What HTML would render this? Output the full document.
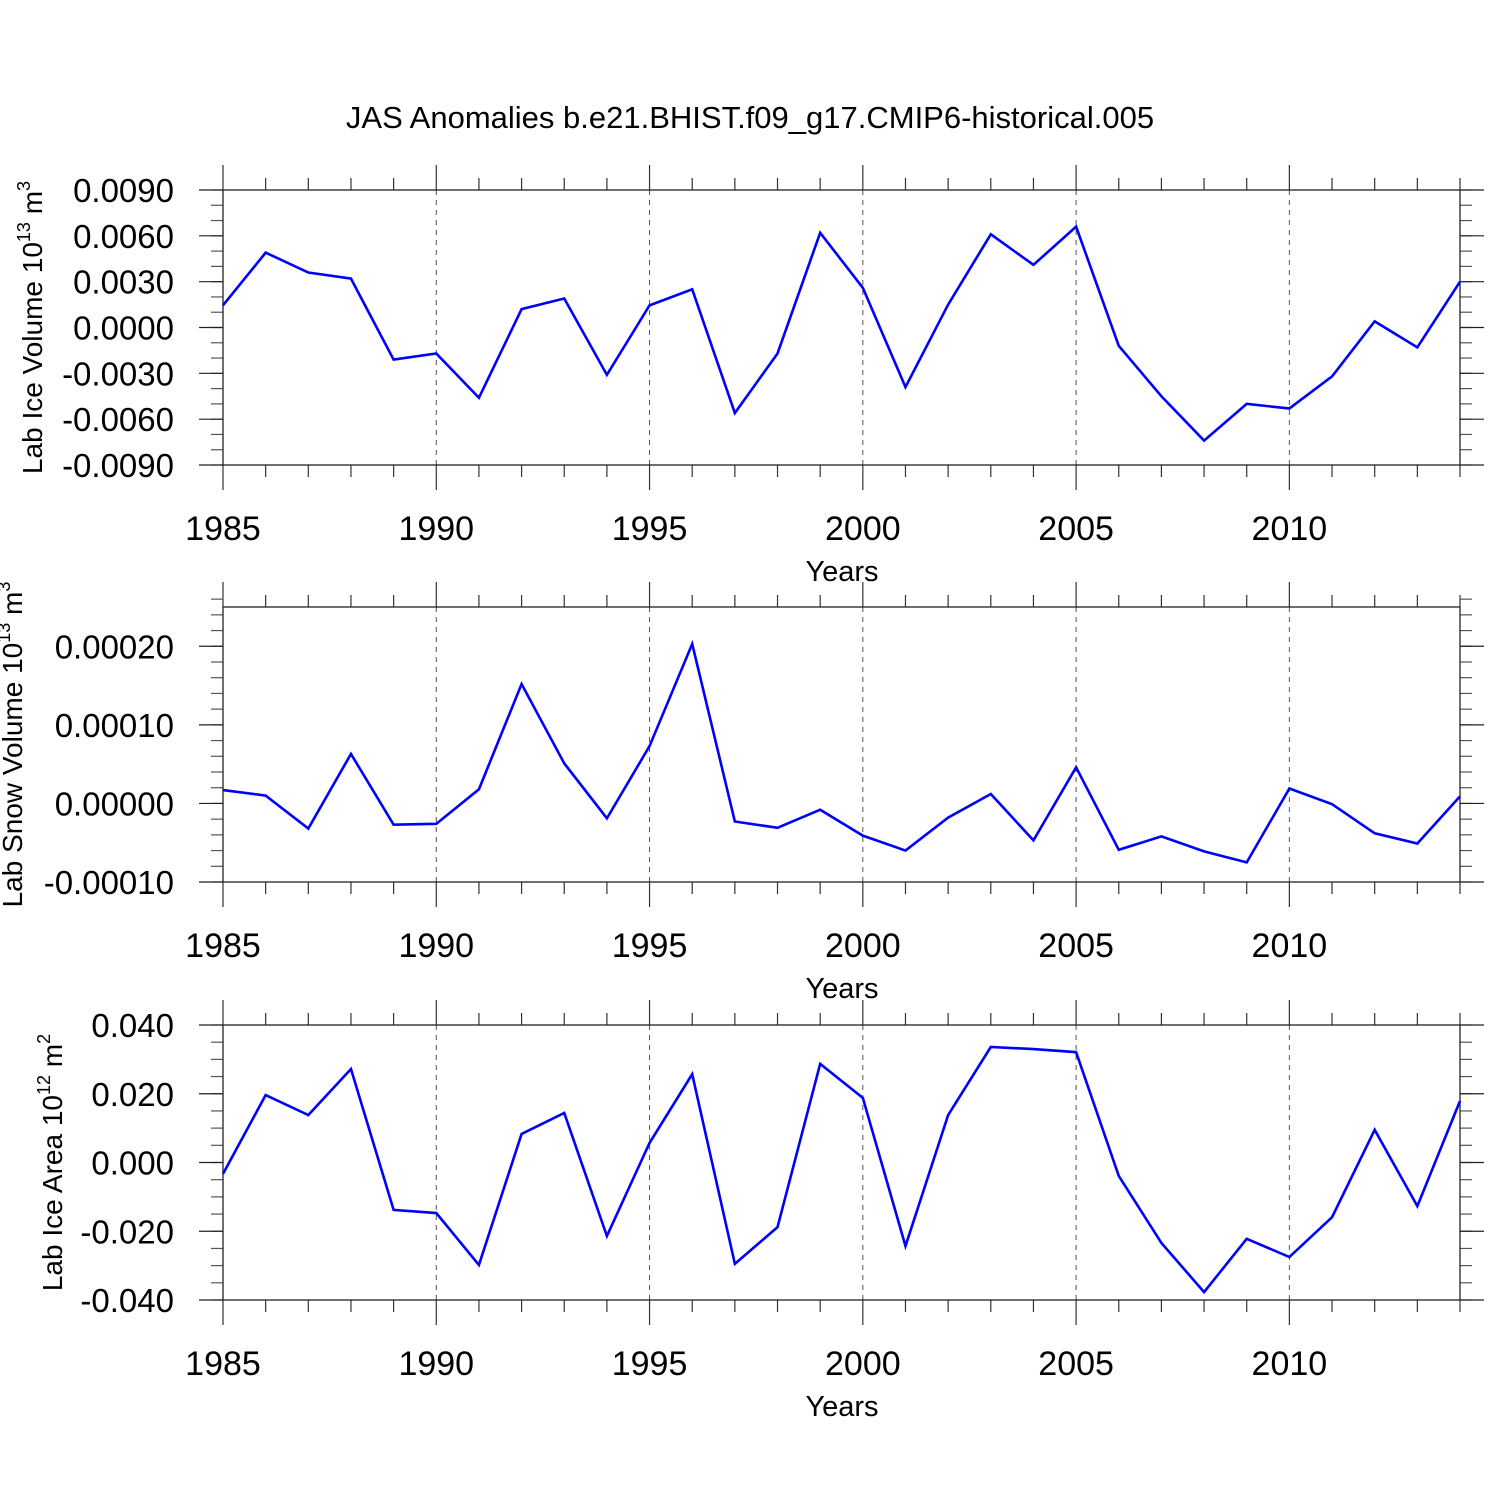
<!DOCTYPE html>
<html><head><meta charset="utf-8"><style>body{margin:0;background:#fff}svg{display:block}text{font-family:"Liberation Sans",sans-serif;fill:#000}</style></head>
<body>
<svg id="chart" width="1500" height="1500" xmlns="http://www.w3.org/2000/svg">
<text x="750" y="128" font-size="31" text-anchor="middle">JAS Anomalies b.e21.BHIST.f09_g17.CMIP6-historical.005</text>
</svg>
<script>
const years = [1985,1986,1987,1988,1989,1990,1991,1992,1993,1994,1995,1996,1997,1998,1999,2000,2001,2002,2003,2004,2005,2006,2007,2008,2009,2010,2011,2012,2013,2014];
const iceVolume = [0.00145,0.0049,0.0036,0.0032,-0.0021,-0.0017,-0.0046,0.0012,0.0019,-0.0031,0.00145,0.0025,-0.0056,-0.0017,0.0062,0.0026,-0.0039,0.0015,0.0061,0.0041,0.0066,-0.0012,-0.0045,-0.0074,-0.0050,-0.0053,-0.0032,0.0004,-0.0013,0.0030];
const snowVolume = [0.000017,0.000010,-0.000032,0.000063,-0.000027,-0.000026,0.000018,0.000152,0.000051,-0.000019,0.000073,0.000203,-0.000023,-0.000031,-0.000008,-0.000041,-0.000060,-0.000018,0.000012,-0.000047,0.000046,-0.000059,-0.000042,-0.000061,-0.000075,0.000019,-0.000001,-0.000038,-0.000051,0.000009];
const iceArea = [-0.0033,0.0196,0.0138,0.0272,-0.0138,-0.0147,-0.0298,0.0083,0.0144,-0.0214,0.0057,0.0257,-0.0295,-0.0188,0.0287,0.0188,-0.0243,0.0138,0.0336,0.0330,0.0321,-0.0039,-0.0234,-0.0377,-0.0222,-0.0275,-0.0159,0.0095,-0.0127,0.0179];
const xTicks = [1985,1990,1995,2000,2005,2010];
const iceVolTicks = [-0.009,-0.006,-0.003,0,0.003,0.006,0.009];
const iceVolLabels = ["-0.0090","-0.0060","-0.0030","0.0000","0.0030","0.0060","0.0090"];
const snowTicks = [-0.0001,0,0.0001,0.0002];
const snowLabels = ["-0.00010","0.00000","0.00010","0.00020"];
const areaTicks = [-0.04,-0.02,0,0.02,0.04];
const areaLabels = ["-0.040","-0.020","0.000","0.020","0.040"];

const svg=document.getElementById('chart');
const NS='http://www.w3.org/2000/svg';
const L=223,R=1460;
function mk(tag,attrs,parent){const e=document.createElementNS(NS,tag);for(const k in attrs)e.setAttribute(k,attrs[k]);(parent||svg).appendChild(e);return e;}
const xs=y=>L+(y-1985)*(R-L)/(2014-1985);

function panel(id,top,bot,ymin,ymax,minorStep,ticks,labels,data,titleParts,titleX){
  const g=mk('g',{});
  
  
  const ys=v=>bot-(v-ymin)*(bot-top)/(ymax-ymin);
  xTicks.forEach(t=>{if(t>1985){const l=mk('line',{x1:xs(t),x2:xs(t),y1:top,y2:bot,stroke:'#555','stroke-width':1,'stroke-dasharray':'5,5'},g);
    }});
  years.forEach(yr=>{const maj=xTicks.includes(yr);const len=maj?25:12;
    mk('line',{x1:xs(yr),x2:xs(yr),y1:top-len,y2:top,stroke:'#333','stroke-width':1.2},g);
    mk('line',{x1:xs(yr),x2:xs(yr),y1:bot,y2:bot+len,stroke:'#333','stroke-width':1.2},g);});
  const n=Math.round((ymax-ymin)/minorStep);
  for(let i=0;i<=n;i++){const v=ymin+i*minorStep;const y=ys(v);
    mk('line',{x1:L-12,x2:L,y1:y,y2:y,stroke:'#555','stroke-width':1.2},g);
    mk('line',{x1:R,x2:R+12,y1:y,y2:y,stroke:'#555','stroke-width':1.2},g);}
  ticks.forEach((v,i)=>{const y=ys(v);
    mk('line',{x1:L-24,x2:L,y1:y,y2:y,stroke:'#222','stroke-width':1.2},g);
    mk('line',{x1:R,x2:R+24,y1:y,y2:y,stroke:'#222','stroke-width':1.2},g);
    const t=mk('text',{x:L-49,y:y+12,'font-size':33,'text-anchor':'end'},g);t.textContent=labels[i];
    });
  mk('rect',{x:L,y:top,width:R-L,height:bot-top,fill:'none',stroke:'#222','stroke-width':1.3},g);
  xTicks.forEach(t=>{const e=mk('text',{x:xs(t),y:bot+75,'font-size':34,'text-anchor':'middle'},g);e.textContent=t;
    });
  const xt=mk('text',{x:842,y:bot+116,'font-size':29,'text-anchor':'middle'},g);xt.textContent='Years';
  
  const cy=(top+bot)/2;
  const yt=mk('text',{x:titleX,y:cy,'font-size':28,'text-anchor':'middle',transform:`rotate(-90 ${titleX} ${cy})`},g);
  
  yt.innerHTML=titleParts;
  const p=mk('polyline',{points:data.map((v,i)=>xs(years[i])+','+ys(v)).join(' '),fill:'none',stroke:'#0000ff','stroke-width':2.6,'stroke-linejoin':'miter'},g);
  
  
}
panel('ice-volume',190,465,-0.009,0.009,0.001,iceVolTicks,iceVolLabels,iceVolume,
 'Lab Ice Volume 10<tspan font-size="18" dy="-12">13</tspan><tspan dy="12"> m</tspan><tspan font-size="18" dy="-12">3</tspan>',42);
panel('snow-volume',607,882,-0.0001,0.00025,0.00002,snowTicks,snowLabels,snowVolume,
 'Lab Snow Volume 10<tspan font-size="18" dy="-12">13</tspan><tspan dy="12"> m</tspan><tspan font-size="18" dy="-12">3</tspan>',22);
panel('ice-area',1025,1300,-0.04,0.04,0.005,areaTicks,areaLabels,iceArea,
 'Lab Ice Area 10<tspan font-size="18" dy="-12">12</tspan><tspan dy="12"> m</tspan><tspan font-size="18" dy="-12">2</tspan>',62);
</script>
</body></html>
